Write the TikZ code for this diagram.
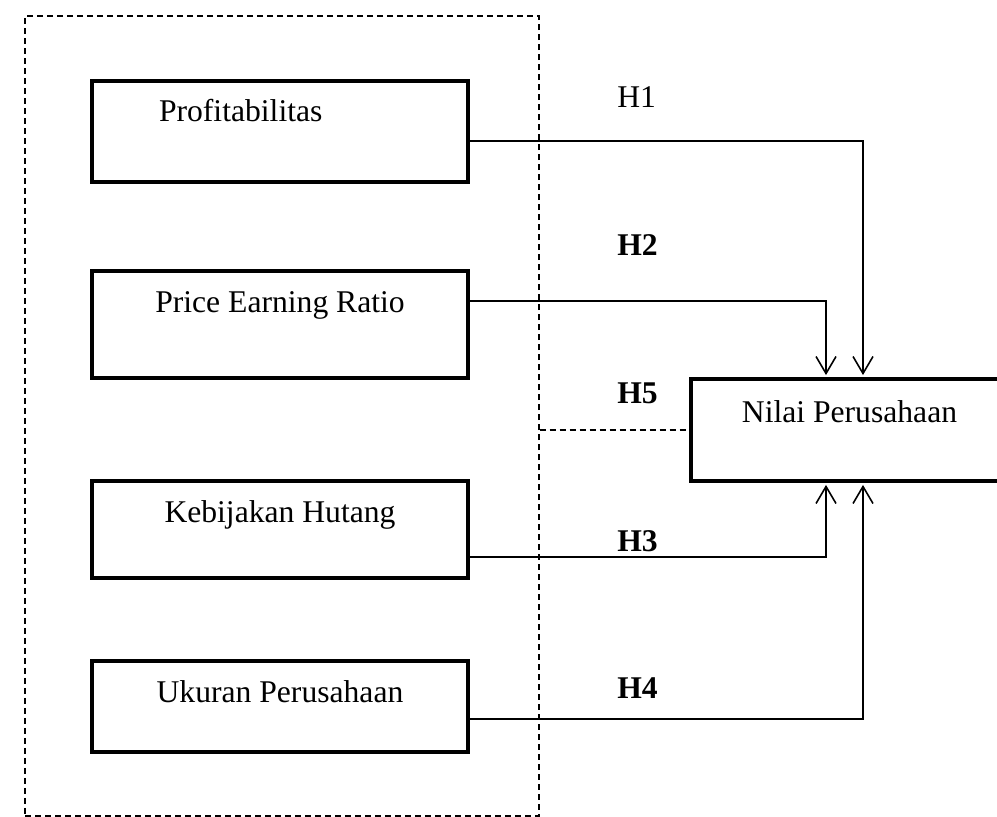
\documentclass[tikz,border=0pt]{standalone}
\usepackage{fontspec}
\setmainfont{Liberation Serif}
\usetikzlibrary{arrows.meta}

\begin{document}
\begin{tikzpicture}[x=0.02cm,y=-0.02cm,
  box/.style={draw,line width=2.3pt,minimum width=7.52cm,inner ysep=0pt,
    text height=0.45cm,font=\fontsize{18}{21}\selectfont},
  frame/.style={draw,dashed,line width=0.75pt,dash pattern=on 0.12cm off 0.08cm,
    minimum width=10.28cm,minimum height=16cm,inner sep=0pt},
  link/.style={line width=0.9pt},
  arr/.style={link,shorten >=1.1pt,-{Straight Barb[length=0.34cm,width=0.4cm,line width=0.9pt]}},
  hyp/.style={anchor=base west,inner sep=0pt,font=\fontsize{18}{21}\selectfont\bfseries}]
  \useasboundingbox (0,0) rectangle (997,817);

  \node[frame] (group) at (282,416) {};

  \node[box,minimum height=2.02cm,text depth=0.83cm,text width=4.84cm,
    inner xsep=1.34cm,align=left] (prof) at (280,131.5) {Profitabilitas};
  \node[box,minimum height=2.14cm,text depth=0.95cm] (per) at (280,324.5) {Price Earning Ratio};
  \node[box,minimum height=1.94cm,text depth=0.75cm] (keb) at (280,529.5) {Kebijakan Hutang};
  \node[box,minimum height=1.82cm,text depth=0.63cm] (uku) at (280,706.5) {Ukuran Perusahaan};
  \node[box,minimum width=6.34cm,minimum height=2.04cm,text depth=0.77cm] (nilai) at (849.5,430) {Nilai Perusahaan};

  \node[hyp,font=\fontsize{18}{21}\selectfont] (h1) at (617,108) {H1};
  \node[hyp] (h2) at (617,256) {H2};
  \node[hyp] (h5) at (617,403) {H5};
  \node[hyp] (h3) at (617,551) {H3};
  \node[hyp] (h4) at (617,698) {H4};

  \draw[arr] ([yshift=-0.19cm]prof.east) -| ([xshift=0.27cm]nilai.north);
  \draw[arr] ([yshift=0.47cm]per.east) -| ([xshift=-0.47cm]nilai.north);
  \draw[arr] ([yshift=-0.55cm]keb.east) -| ([xshift=-0.47cm]nilai.south);
  \draw[arr] ([yshift=-0.25cm]uku.east) -| ([xshift=0.27cm]nilai.south);
  \draw[link,dash pattern=on 0.12cm off 0.08cm] (group.east |- nilai.west) -- (nilai.west);
\end{tikzpicture}
\end{document}
